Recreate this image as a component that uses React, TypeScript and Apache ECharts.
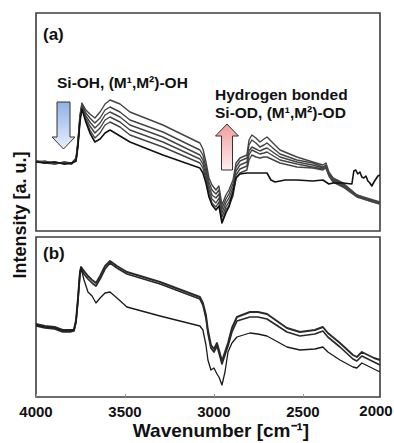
import React, { useEffect, useRef } from "react";
import * as echarts from "echarts";

// ---------- Data ----------
const X_TICKS = [4000, 3500, 3000, 2500];

// Panel (a): wavenumbers shared by the five gray spectra
const WN_A = [4000, 3950, 3895, 3840, 3800, 3775, 3764, 3753, 3742, 3720, 3697, 3669, 3640, 3612, 3584, 3528, 3472, 3287, 3079, 3062, 3045, 3028, 3011, 2989, 2972, 2955, 2933, 2916, 2893, 2876, 2854, 2815, 2803, 2787, 2764, 2742, 2719, 2702, 2629, 2534, 2444, 2388, 2371, 2354, 2331, 2275, 2197, 2124, 2067];
const A_G1 = [70, 69, 68, 68, 68, 73, 91, 116, 128, 121, 117, 113, 119, 127, 131, 127, 119, 106, 88, 82, 69, 53, 46, 41, 45, 26, 36, 41, 51, 68, 73, 76, 91, 96, 93, 89, 92, 94, 81, 74, 69, 66, 68, 59, 53, 48, 36, 32, 29];
const A_G2 = [69, 70, 67, 69, 67, 72, 89, 114, 127, 118, 113, 108, 113, 121, 124, 119, 111, 99, 81, 76, 64, 49, 41, 37, 41, 22, 32, 37, 47, 64, 70, 73, 86, 91, 88, 84, 86, 88, 77, 71, 68, 64, 66, 58, 52, 47, 36, 31, 28];
const A_G3 = [70, 68, 69, 67, 68, 71, 88, 113, 126, 115, 109, 103, 108, 116, 119, 114, 106, 94, 76, 71, 60, 45, 36, 33, 37, 18, 28, 33, 43, 60, 66, 69, 80, 84, 82, 80, 82, 83, 74, 69, 66, 63, 65, 57, 51, 46, 35, 31, 28];
const A_G4 = [69, 69, 68, 68, 67, 71, 87, 112, 125, 113, 105, 98, 103, 111, 114, 109, 101, 89, 72, 67, 56, 41, 32, 28, 33, 14, 24, 29, 39, 56, 62, 65, 76, 81, 79, 77, 78, 79, 71, 67, 64, 62, 64, 56, 50, 45, 35, 30, 27];
const A_G5 = [70, 68, 67, 69, 68, 70, 86, 111, 124, 111, 101, 93, 98, 106, 109, 104, 96, 84, 68, 63, 52, 37, 28, 24, 29, 9, 21, 25, 35, 53, 58, 61, 71, 76, 74, 73, 74, 74, 68, 64, 63, 61, 63, 55, 49, 44, 34, 30, 27];

// Panel (a): black spectrum
const WN_K = [4000, 3950, 3895, 3840, 3800, 3775, 3764, 3753, 3742, 3720, 3697, 3669, 3640, 3612, 3584, 3528, 3472, 3287, 3079, 3062, 3045, 3028, 3011, 2989, 2972, 2955, 2933, 2916, 2893, 2876, 2854, 2815, 2742, 2702, 2680, 2657, 2600, 2534, 2444, 2388, 2371, 2354, 2331, 2275, 2225, 2214, 2203, 2192, 2180, 2169, 2158, 2146, 2135, 2124, 2113, 2101, 2090, 2079, 2067];
const A_K = [69, 68, 69, 67, 68, 70, 85, 109, 122, 109, 98, 89, 92, 98, 101, 95, 89, 76, 63, 58, 48, 34, 26, 21, 25, 8, 18, 24, 39, 53, 57, 58, 58, 58, 51, 49, 51, 51, 50, 51, 49, 47, 48, 48, 47, 60, 61, 57, 59, 54, 53, 55, 50, 48, 45, 49, 52, 55, 56];

// Panel (b)
const WN_B = [4000, 3950, 3895, 3850, 3809, 3787, 3775, 3764, 3753, 3747, 3730, 3708, 3685, 3663, 3640, 3612, 3584, 3545, 3489, 3303, 3079, 3062, 3045, 3034, 3017, 3000, 2983, 2972, 2955, 2938, 2921, 2899, 2871, 2798, 2753, 2702, 2590, 2517, 2433, 2388, 2360, 2292, 2219, 2197, 2169, 2135, 2101, 2067];
const B_U1 = [73, 71, 70, 67, 67, 67, 77, 99, 125, 130, 126, 121, 117, 114, 121, 131, 136, 131, 125, 115, 100, 94, 82, 67, 52, 48, 54, 47, 36, 45, 54, 69, 80, 85, 85, 83, 69, 65, 67, 70, 64, 54, 42, 40, 45, 42, 39, 37];
const B_U2 = [71, 69, 68, 65, 65, 66, 75, 97, 123, 128, 123, 118, 114, 111, 118, 128, 134, 129, 123, 113, 98, 92, 79, 64, 49, 45, 51, 44, 33, 42, 51, 65, 76, 80, 80, 78, 65, 61, 63, 66, 60, 50, 38, 36, 41, 38, 35, 32];
const B_L = [72, 70, 69, 66, 66, 67, 76, 98, 124, 129, 117, 105, 101, 94, 99, 104, 105, 99, 90, 81, 71, 67, 52, 37, 27, 29, 23, 20, 12, 25, 45, 54, 60, 64, 63, 61, 50, 47, 48, 50, 45, 37, 30, 29, 34, 31, 28, 25];

const FONT = "'Liberation Sans', Arial, Helvetica, sans-serif";

function pairs(xs: number[], ys: number[]) {
  return xs.map((x, i) => [x, ys[i]]);
}

function line(name: string, xs: number[], ys: number[], idx: number, color: string, width: number, z = 2) {
  return {
    name,
    type: "line",
    xAxisIndex: idx,
    yAxisIndex: idx,
    data: pairs(xs, ys),
    symbol: "none",
    showSymbol: false,
    silent: true,
    z,
    lineStyle: { color, width, join: "round" },
  };
}

export default function App() {
  const ref = useRef<HTMLDivElement>(null);
  useEffect(() => {
    if (!ref.current) return;
    const chart = echarts.init(ref.current, undefined, { renderer: "svg" });
    const gridStyle = { show: true, borderColor: "#3c3c3c", borderWidth: 1.6, backgroundColor: "transparent" };
    const hiddenX = {
      type: "value",
      min: 2067,
      max: 4000,
      inverse: true,
      axisLine: { show: false },
      axisTick: { show: false },
      axisLabel: { show: false },
      splitLine: { show: false },
    };
    const option: any = {
      animation: false,
      backgroundColor: "#ffffff",
      grid: [
        { left: 36, top: 13, width: 344, height: 218, ...gridStyle },
        { left: 36, top: 237, width: 344, height: 160, ...gridStyle },
      ],
      xAxis: [
        { ...hiddenX, gridIndex: 0 },
        {
          ...hiddenX,
          gridIndex: 1,
          axisTick: { show: true, inside: true, length: 3, customValues: X_TICKS, lineStyle: { color: "#999" } },
          axisLabel: {
            show: true,
            customValues: X_TICKS,
            formatter: (v: number) => String(v),
            margin: 7,
            fontFamily: FONT,
            fontWeight: "bold",
            fontSize: 15,
            color: "#111",
          },
        },
      ],
      yAxis: [
        { gridIndex: 0, type: "value", min: 0, max: 218, show: false, splitLine: { show: false } },
        { gridIndex: 1, type: "value", min: 0, max: 160, show: false, splitLine: { show: false } },
      ],
      series: [
        line("a1", WN_A, A_G1, 0, "#444", 1.4),
        line("a2", WN_A, A_G2, 0, "#444", 1.4),
        line("a3", WN_A, A_G3, 0, "#444", 1.4),
        line("a4", WN_A, A_G4, 0, "#444", 1.4),
        line("a5", WN_A, A_G5, 0, "#444", 1.4),
        line("aK", WN_K, A_K, 0, "#111", 1.6, 3),
        line("bU1", WN_B, B_U1, 1, "#2a2a2a", 1.9),
        line("bU2", WN_B, B_U2, 1, "#2a2a2a", 1.7),
        line("bL", WN_B, B_L, 1, "#1a1a1a", 1.3),
      ],
      graphic: [
        { type: "text", x: 43, y: 34, style: { text: "(a)", font: `bold 17px ${FONT}`, fill: "#111", verticalAlign: "middle" } },
        { type: "text", x: 43, y: 253, style: { text: "(b)", font: `bold 17px ${FONT}`, fill: "#111", verticalAlign: "middle" } },
        { type: "text", x: 57, y: 82, style: { text: "Si-OH, (M¹,M²)-OH", font: `bold 15.5px ${FONT}`, fill: "#111", verticalAlign: "middle" } },
        { type: "text", x: 215, y: 94, style: { text: "Hydrogen bonded", font: `bold 15.5px ${FONT}`, fill: "#111", verticalAlign: "middle" } },
        { type: "text", x: 215, y: 112, style: { text: "Si-OD, (M¹,M²)-OD", font: `bold 15.5px ${FONT}`, fill: "#111", verticalAlign: "middle" } },
        {
          type: "polygon",
          shape: { points: [[57, 102], [70, 102], [70, 137], [75, 137], [63.5, 149], [52, 137], [57, 137]] },
          style: {
            fill: new echarts.graphic.LinearGradient(0, 0, 0, 1, [
              { offset: 0, color: "#8fb1e8" },
              { offset: 1, color: "#e8f0fc" },
            ]),
            stroke: "#333",
            lineWidth: 1,
          },
        },
        {
          type: "polygon",
          shape: { points: [[227, 124], [238.5, 136], [232.5, 136], [232.5, 170], [221.5, 170], [221.5, 136], [215.5, 136]] },
          style: {
            fill: new echarts.graphic.LinearGradient(0, 0, 0, 1, [
              { offset: 0, color: "#f29c9c" },
              { offset: 1, color: "#fdeeee" },
            ]),
            stroke: "#333",
            lineWidth: 1,
          },
        },
        { type: "text", x: 376, y: 410, style: { text: "2000", font: `bold 15px ${FONT}`, fill: "#111", align: "center", verticalAlign: "middle" } },
        { type: "text", x: 221, y: 430, style: { text: "Wavenumber [cm⁻¹]", font: `bold 19px ${FONT}`, fill: "#111", align: "center", verticalAlign: "middle" } },
        {
          type: "text",
          x: 20,
          y: 215,
          rotation: Math.PI / 2,
          style: { text: "Intensity [a. u.]", font: `bold 18px ${FONT}`, fill: "#111", align: "center", verticalAlign: "middle" },
        },
      ],
    };
    chart.setOption(option);
    return () => chart.dispose();
  }, []);
  return (
    <div
      ref={ref}
      style={{ position: "fixed", left: 0, top: 0, width: 394, height: 443, background: "#fff" }}
    />
  );
}
